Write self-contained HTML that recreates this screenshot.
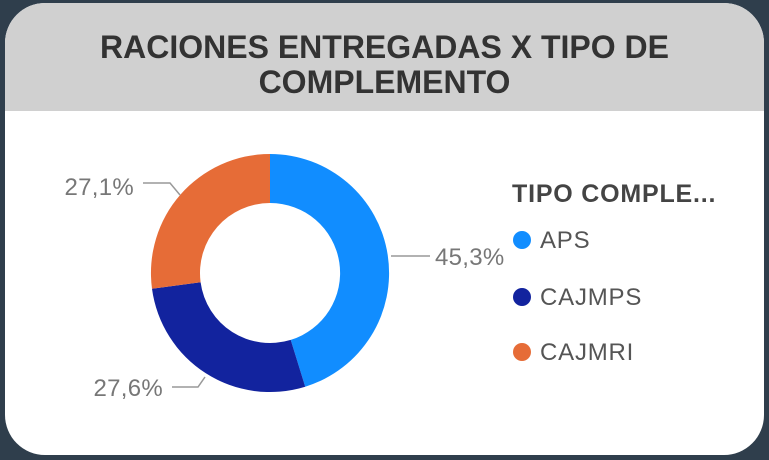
<!DOCTYPE html>
<html><head><style>
html,body{margin:0;padding:0;width:769px;height:460px;overflow:hidden;background:#2f3e4c;}
.card{position:absolute;left:5px;top:3px;width:759px;height:452px;background:#fff;border-radius:40px;overflow:hidden;}
.hdr{position:absolute;left:0;top:0;width:100%;height:108px;background:#d0d0d0;}
.t{position:absolute;left:0;width:100%;text-align:center;font:bold 32px "Liberation Sans",sans-serif;color:#333;}
</style></head><body>
<div class="card"><div class="hdr">
<div class="t" style="top:26px">RACIONES ENTREGADAS X TIPO DE</div>
<div class="t" style="top:61px">COMPLEMENTO</div></div></div>
<svg width="769" height="460" style="position:absolute;left:0;top:0" font-family="Liberation Sans, sans-serif">
<g transform="translate(270,273)">
<path d="M0,-119 A119,119 0 0 1 35.2,113.7 L20.7,66.9 A70,70 0 0 0 0,-70Z" fill="#118dff"/>
<path d="M35.2,113.7 A119,119 0 0 1 -118,15.7 L-69.4,9.2 A70,70 0 0 0 20.7,66.9Z" fill="#12239e"/>
<path d="M-118,15.7 A119,119 0 0 1 0,-119 L0,-70 A70,70 0 0 0 -69.4,9.2Z" fill="#e66c37"/>
</g>
<g stroke="#999" stroke-width="1.5" fill="none">
<polyline points="143,183 170,183 180,195"/>
<polyline points="391,256 430,256"/>
<polyline points="172,387 198,387 205,377"/>
</g>
<g fill="#777" font-size="24" letter-spacing="0.3">
<text x="134" y="195" text-anchor="end">27,1%</text>
<text x="435" y="265">45,3%</text>
<text x="163" y="396" text-anchor="end">27,6%</text>
</g>
<text x="512" y="202" font-size="25" font-weight="bold" fill="#444" letter-spacing="0.8">TIPO COMPLE...</text>
<circle cx="522" cy="240" r="9" fill="#118dff"/>
<circle cx="522" cy="297" r="9" fill="#12239e"/>
<circle cx="522" cy="352" r="9" fill="#e66c37"/>
<g fill="#555" font-size="24" letter-spacing="0.8">
<text x="540" y="248">APS</text>
<text x="540" y="305">CAJMPS</text>
<text x="540" y="360">CAJMRI</text>
</g>
</svg>
</body></html>
